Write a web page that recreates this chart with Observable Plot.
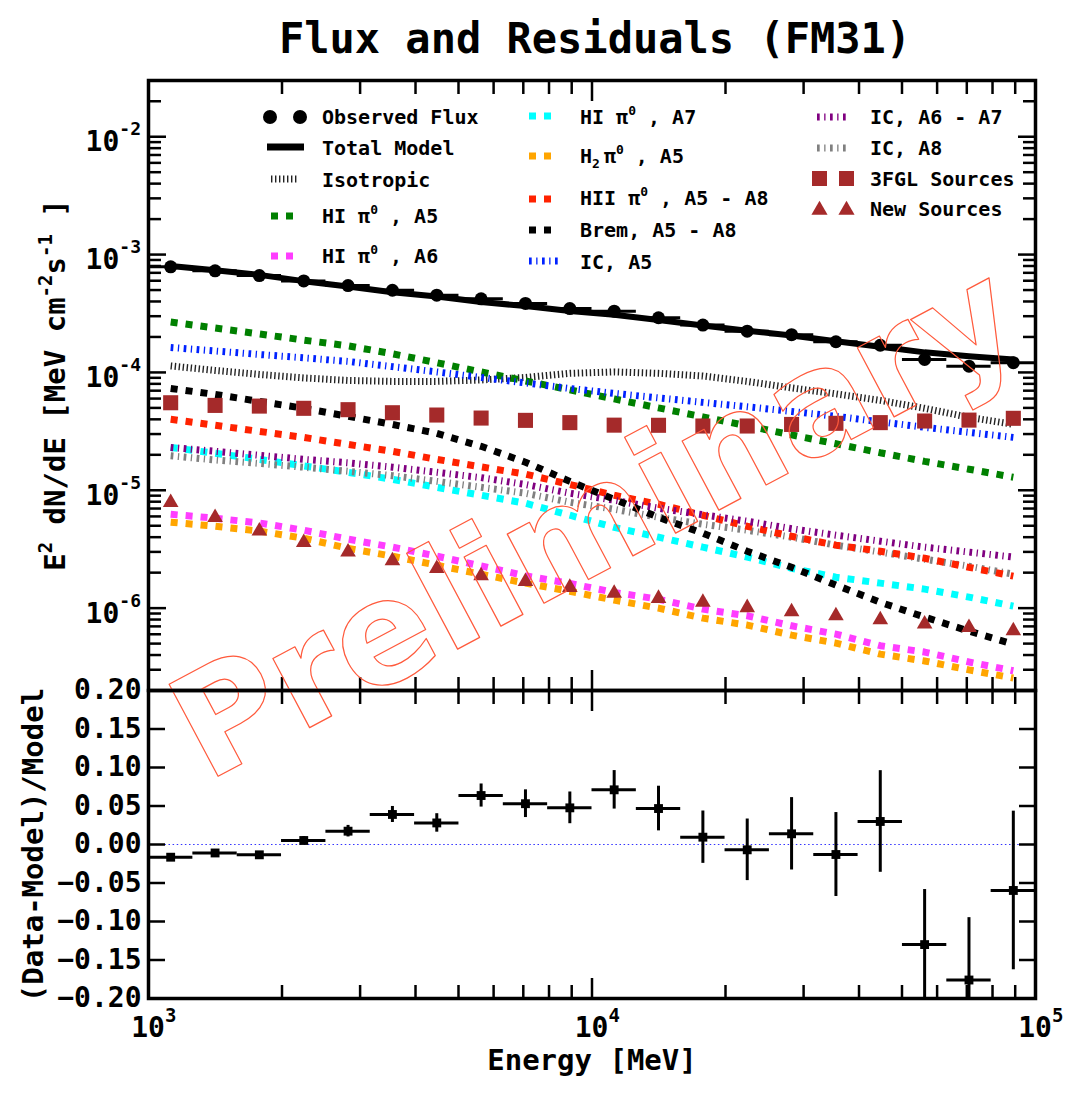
<!DOCTYPE html>
<html><head><meta charset="utf-8">
<script src="https://cdn.jsdelivr.net/npm/d3@7"></script>
<script src="https://cdn.jsdelivr.net/npm/@observablehq/plot@0.6"></script>
<style>
body{margin:0;background:#fff;}
#wrap{position:relative;width:1070px;height:1093px;overflow:hidden;background:#fff;}
#wrap svg{position:absolute;left:0;}
</style></head><body><div id="wrap"></div>
<script>
// ---------------- data ----------------
const energy = [1122, 1413, 1778, 2239, 2818, 3548, 4467, 5623, 7079, 8913, 11220, 14125, 17783, 22387, 28184, 35481, 44668, 56234, 70795, 89125];
const energyLow = [1000, 1259, 1585, 1995, 2512, 3162, 3981, 5012, 6310, 7943, 10000, 12589, 15849, 19953, 25119, 31623, 39811, 50119, 63096, 79433];
const energyHigh = [1259, 1585, 1995, 2512, 3162, 3981, 5012, 6310, 7943, 10000, 12589, 15849, 19953, 25119, 31623, 39811, 50119, 63096, 79433, 100000];

const observedFlux = [7.87e-4, 7.28e-4, 6.64e-4, 5.98e-4, 5.46e-4, 4.98e-4, 4.52e-4, 4.21e-4, 3.85e-4, 3.48e-4, 3.31e-4, 2.91e-4, 2.52e-4, 2.24e-4, 2.09e-4, 1.82e-4, 1.70e-4, 1.29e-4, 1.13e-4, 1.21e-4];
const totalModel = [8.0e-4, 7.36e-4, 6.73e-4, 5.95e-4, 5.37e-4, 4.79e-4, 4.40e-4, 3.96e-4, 3.66e-4, 3.32e-4, 3.09e-4, 2.78e-4, 2.50e-4, 2.26e-4, 2.06e-4, 1.84e-4, 1.65e-4, 1.48e-4, 1.37e-4, 1.29e-4];
const isotropic = [1.135e-4, 1.04e-4, 9.62e-5, 8.98e-5, 8.55e-5, 8.39e-5, 8.39e-5, 8.63e-5, 9.07e-5, 9.82e-5, 1.01e-4, 9.82e-5, 9.33e-5, 8.39e-5, 7.39e-5, 6.58e-5, 5.79e-5, 4.96e-5, 4.16e-5, 3.63e-5];
const hiA5 = [2.68e-4, 2.38e-4, 2.12e-4, 1.88e-4, 1.68e-4, 1.44e-4, 1.21e-4, 1.01e-4, 8.47e-5, 7.11e-5, 5.96e-5, 5.00e-5, 4.20e-5, 3.52e-5, 2.95e-5, 2.48e-5, 2.08e-5, 1.76e-5, 1.51e-5, 1.29e-5];
const hiA6 = [6.26e-6, 5.79e-6, 5.28e-6, 4.58e-6, 3.85e-6, 3.29e-6, 2.76e-6, 2.28e-6, 1.88e-6, 1.62e-6, 1.36e-6, 1.19e-6, 9.81e-7, 8.61e-7, 7.08e-7, 6.02e-7, 4.80e-7, 4.24e-7, 3.49e-7, 2.94e-7];
const hiA7 = [2.31e-5, 2.06e-5, 1.83e-5, 1.61e-5, 1.42e-5, 1.24e-5, 1.06e-5, 9.08e-6, 7.76e-6, 6.14e-6, 4.85e-6, 4.00e-6, 3.29e-6, 2.71e-6, 2.18e-6, 1.83e-6, 1.63e-6, 1.45e-6, 1.24e-6, 1.04e-6];
const h2A5 = [5.36e-6, 4.95e-6, 4.50e-6, 3.92e-6, 3.22e-6, 2.76e-6, 2.31e-6, 1.94e-6, 1.63e-6, 1.39e-6, 1.17e-6, 1.00e-6, 8.22e-7, 7.18e-7, 5.90e-7, 5.05e-7, 4.07e-7, 3.56e-7, 2.99e-7, 2.55e-7];
const hiiA5A8 = [4.00e-5, 3.56e-5, 3.16e-5, 2.81e-5, 2.45e-5, 2.14e-5, 1.83e-5, 1.58e-5, 1.37e-5, 1.12e-5, 9.08e-6, 7.61e-6, 6.14e-6, 4.95e-6, 4.07e-6, 3.42e-6, 3.04e-6, 2.65e-6, 2.22e-6, 1.87e-6];
const bremA5A8 = [7.31e-5, 6.51e-5, 5.68e-5, 4.96e-5, 4.24e-5, 3.62e-5, 3.04e-5, 2.36e-5, 1.73e-5, 1.19e-5, 8.39e-6, 5.90e-6, 4.32e-6, 3.04e-6, 2.22e-6, 1.57e-6, 1.12e-6, 8.39e-7, 6.38e-7, 4.95e-7];
const icA5 = [1.63e-4, 1.52e-4, 1.42e-4, 1.33e-4, 1.24e-4, 1.12e-4, 1.01e-4, 9.07e-5, 8.15e-5, 7.31e-5, 6.64e-5, 6.08e-5, 5.57e-5, 5.11e-5, 4.67e-5, 4.24e-5, 3.81e-5, 3.42e-5, 3.10e-5, 2.81e-5];
const icA6A7 = [2.31e-5, 2.14e-5, 1.98e-5, 1.83e-5, 1.71e-5, 1.57e-5, 1.42e-5, 1.28e-5, 1.12e-5, 9.44e-6, 8.23e-6, 7.04e-6, 6.20e-6, 5.46e-6, 4.72e-6, 4.16e-6, 3.70e-6, 3.29e-6, 2.99e-6, 2.71e-6];
const icA8 = [1.96e-5, 1.81e-5, 1.69e-5, 1.57e-5, 1.45e-5, 1.33e-5, 1.19e-5, 1.06e-5, 9.44e-6, 7.91e-6, 6.90e-6, 5.90e-6, 5.15e-6, 4.58e-6, 4.00e-6, 3.42e-6, 2.99e-6, 2.60e-6, 2.27e-6, 1.94e-6];
const fgl3Sources = [5.53e-5, 5.25e-5, 5.18e-5, 4.96e-5, 4.83e-5, 4.55e-5, 4.35e-5, 4.10e-5, 3.92e-5, 3.75e-5, 3.57e-5, 3.56e-5, 3.51e-5, 3.51e-5, 3.62e-5, 3.70e-5, 3.75e-5, 3.87e-5, 3.94e-5, 4.08e-5];
const newSources = [7.87e-6, 5.87e-6, 4.52e-6, 3.60e-6, 3.00e-6, 2.52e-6, 2.17e-6, 1.88e-6, 1.68e-6, 1.50e-6, 1.34e-6, 1.21e-6, 1.12e-6, 1.01e-6, 9.31e-7, 8.61e-7, 7.96e-7, 7.32e-7, 6.86e-7, 6.42e-7];

const residual = [-0.0165, -0.011, -0.0134, 0.0052, 0.0173, 0.039, 0.028, 0.0636, 0.053, 0.0476, 0.071, 0.0467, 0.0095, -0.0069, 0.0139, -0.013, 0.0299, -0.130, -0.176, -0.0597];
const residualErr = [0.003, 0.003, 0.003, 0.005, 0.0075, 0.0104, 0.012, 0.015, 0.018, 0.0206, 0.025, 0.029, 0.034, 0.040, 0.047, 0.0545, 0.066, 0.0715, 0.081, 0.103];

const xMajorTicks = [1e3, 1e4, 1e5];
const xMinorTicks = [2e3, 3e3, 4e3, 5e3, 6e3, 7e3, 8e3, 9e3, 2e4, 3e4, 4e4, 5e4, 6e4, 7e4, 8e4, 9e4];
const yMajorTicks = [1e-6, 1e-5, 1e-4, 1e-3, 1e-2];
const yMinorTicks = [2e-7,3e-7,4e-7,5e-7,6e-7,7e-7,8e-7,9e-7, 2e-6,3e-6,4e-6,5e-6,6e-6,7e-6,8e-6,9e-6, 2e-5,3e-5,4e-5,5e-5,6e-5,7e-5,8e-5,9e-5, 2e-4,3e-4,4e-4,5e-4,6e-4,7e-4,8e-4,9e-4, 2e-3,3e-3,4e-3,5e-3,6e-3,7e-3,8e-3,9e-3, 2e-2,3e-2];
const residTicks = [-0.2, -0.15, -0.1, -0.05, 0, 0.05, 0.1, 0.15, 0.2];

// ---------------- helpers ----------------
const MONO = "DejaVu Sans Mono";
const rows = vals => energy.map((E, i) => ({E, v: vals[i], lo: energyLow[i], hi: energyHigh[i]}));
const SQ = "7,8";
const IC = "2.7,4.5,1.3,4.5";
const ISO = "1.4,2.6";
const dashed = (vals, stroke, dash) => Plot.line(rows(vals), {
  x: "E", y: "v", stroke, strokeWidth: 7, strokeDasharray: dash,
  strokeLinecap: "butt", strokeLinejoin: "miter"
});
const tickAxes = (axis, anchors, ticks, size) => anchors.map(anchor =>
  axis({anchor, ticks, tickSize: -size, fill: "none", stroke: "black", strokeWidth: 2.5, label: null}));

const colors = {
  hiA5: "#008000", hiA6: "#ff3dff", hiA7: "#00ffff", h2: "#ffa500", hii: "#ff2200",
  brem: "#000000", icA5: "#0022ff", icA6: "#800080", icA8: "#808080", iso: "#222222", src: "#a52a2a"
};

// ---------------- top panel ----------------
const topPlot = Plot.plot({
  width: 1070, height: 690,
  marginLeft: 148, marginRight: 35, marginTop: 80, marginBottom: 0,
  style: {background: "transparent", overflow: "visible"},
  x: {type: "log", domain: [1e3, 1e5]},
  y: {type: "log", domain: [2e-7, 3e-2]},
  marks: [
    dashed(isotropic, colors.iso, ISO),
    dashed(hiA5, colors.hiA5, SQ),
    dashed(hiA6, colors.hiA6, SQ),
    dashed(h2A5, colors.h2, SQ),
    dashed(hiA7, colors.hiA7, SQ),
    dashed(icA8, colors.icA8, IC),
    dashed(hiiA5A8, colors.hii, SQ),
    dashed(icA6A7, colors.icA6, IC),
    dashed(bremA5A8, colors.brem, SQ),
    dashed(icA5, colors.icA5, IC),
    Plot.ruleY(rows(observedFlux), {x1: "lo", x2: "hi", y: "v", stroke: "black", strokeWidth: 3}),
    Plot.line(rows(totalModel), {x: "E", y: "v", stroke: "black", strokeWidth: 6}),
    Plot.dot(rows(observedFlux), {x: "E", y: "v", r: 6.5, fill: "black"}),
    Plot.dot(rows(fgl3Sources), {x: "E", y: "v", symbol: "square", r: 8.5, fill: colors.src}),
    Plot.dot(rows(newSources), {x: "E", y: "v", symbol: "triangle", r: 5.8, fill: colors.src}),
    ...tickAxes(Plot.axisX, ["top", "bottom"], xMinorTicks, 13),
    ...tickAxes(Plot.axisX, ["top", "bottom"], xMajorTicks, 20),
    ...tickAxes(Plot.axisY, ["left", "right"], yMinorTicks, 13),
    ...tickAxes(Plot.axisY, ["left", "right"], yMajorTicks, 18),
    Plot.frame({stroke: "black", strokeWidth: 3.5}),
    Plot.text(["Preliminary"], {
      text: d => d, frameAnchor: "top-left", dx: 58, dy: 702, rotate: -28,
      textAnchor: "start", lineAnchor: "bottom", fontSize: 143,
      fontFamily: "DejaVu Sans", fontWeight: "bold",
      fill: "none", stroke: "#ff5a3c", strokeWidth: 1.2
    })
  ]
});

// ---------------- bottom panel ----------------
const resRows = energy.map((E, i) => ({E, r: residual[i], e: residualErr[i], lo: energyLow[i], hi: energyHigh[i]}));
const botPlot = Plot.plot({
  width: 1070, height: 403,
  marginLeft: 148, marginRight: 35, marginTop: 0, marginBottom: 95,
  style: {background: "transparent", overflow: "visible"},
  x: {type: "log", domain: [1e3, 1e5]},
  y: {domain: [-0.2, 0.2]},
  marks: [
    Plot.ruleY([0], {stroke: "#3333ff", strokeWidth: 1.2, strokeDasharray: "1.5,2.6"}),
    Plot.ruleY(resRows, {x1: "lo", x2: "hi", y: "r", stroke: "black", strokeWidth: 3}),
    Plot.ruleX(resRows, {x: "E", y1: d => d.r - d.e, y2: d => d.r + d.e, stroke: "black", strokeWidth: 3, clip: true}),
    Plot.dot(resRows, {x: "E", y: "r", symbol: "square", r: 5, fill: "black"}),
    ...tickAxes(Plot.axisX, ["top", "bottom"], xMinorTicks, 13),
    ...tickAxes(Plot.axisX, ["top", "bottom"], xMajorTicks, 20),
    ...tickAxes(Plot.axisY, ["left", "right"], residTicks, 17),
    Plot.axisY({anchor: "left", ticks: residTicks, tickSize: 0, tickPadding: 7, stroke: "none",
      tickFormat: d3.format(".2f"), fontSize: 28, fontFamily: MONO, fontWeight: "bold", fill: "black", label: null}),
    Plot.frame({stroke: "black", strokeWidth: 3.5})
  ]
});

const wrap = document.getElementById("wrap");
topPlot.style.top = "0px";
botPlot.style.top = "690px";
wrap.appendChild(topPlot);
wrap.appendChild(botPlot);

// ---------------- texts ----------------
function txt(svg, x, y, opts = {}) {
  const t = d3.select(svg).append("text")
    .attr("x", x).attr("y", y)
    .attr("font-family", opts.family || MONO).attr("font-weight", "bold")
    .attr("font-size", opts.size || 20).attr("text-anchor", opts.anchor || "start")
    .attr("fill", "black");
  if (opts.transform) t.attr("transform", opts.transform);
  return t;
}
// pieces: [string, kind] kind: 0 normal, 1 sup, -1 sub
function rich(t, pieces, size, small, up) {
  let shift = 0;
  pieces.forEach(([s, k, extra]) => {
    const target = k === 1 ? -up : k === -1 ? up * 0.55 : 0;
    const sp = t.append("tspan").attr("dy", target - shift).attr("font-size", k ? small : size).text(s);
    if (extra) sp.attr("dx", extra);
    shift = target;
  });
  return t;
}

// title
txt(topPlot, 595, 53, {size: 42, anchor: "middle"}).text("Flux and Residuals (FM31)");

// top y tick labels
const ys = topPlot.scale("y");
yMajorTicks.forEach(t => {
  const py = ys.apply(t);
  rich(txt(topPlot, 141, py + 15, {size: 28, anchor: "end"}),
    [["10", 0], ["-" + Math.round(-Math.log10(t)), 1]], 28, 18, 16);
});

// bottom x tick labels
const xs = botPlot.scale("x");
xMajorTicks.forEach(t => {
  const px = xs.apply(t);
  txt(botPlot, px, 347, {size: 28, anchor: "middle"}).text("10");
  txt(botPlot, px + 17, 332, {size: 19}).text(String(Math.round(Math.log10(t))));
});

// axis titles
txt(botPlot, 592, 380, {size: 29, anchor: "middle"}).text("Energy [MeV]");
txt(botPlot, 0, 0, {size: 29, anchor: "middle", transform: "translate(43,155) rotate(-90)"}).text("(Data-Model)/Model");
rich(txt(topPlot, 0, 0, {size: 29, anchor: "middle", transform: "translate(65,385) rotate(-90)"}),
  [["E", 0], ["2", 1], [" dN/dE [MeV cm", 0], ["-2", 1], ["s", 0], ["-1", 1], [" ]", 0]], 29, 19, 13);

// ---------------- legend ----------------
const g = d3.select(topPlot).append("g");
function lline(x1, x2, y, stroke, dash, w = 7) {
  g.append("line").attr("x1", x1).attr("x2", x2).attr("y1", y).attr("y2", y)
    .attr("stroke", stroke).attr("stroke-width", w).attr("stroke-dasharray", dash || null);
}
function ltext(x, y, pieces) {
  rich(txt(topPlot, x, y + 7, {size: 20}), pieces, 20, 13, 9);
}
const pi0 = (pre, post) => [[pre + "π", 0], ["0", 1], [post, 0]];
// column 1
g.append("circle").attr("cx", 270).attr("cy", 117).attr("r", 7);
g.append("circle").attr("cx", 300).attr("cy", 117).attr("r", 7);
ltext(322, 117, [["Observed Flux", 0]]);
lline(267, 304, 147, "black", null, 7);
ltext(322, 148, [["Total Model", 0]]);
lline(271, 298, 179, colors.iso, ISO);
ltext(322, 180, [["Isotropic", 0]]);
lline(271, 294, 216, colors.hiA5, SQ);
ltext(322, 216, pi0("HI ", " , A5"));
lline(271, 294, 256, colors.hiA6, SQ);
ltext(322, 256, pi0("HI ", " , A6"));
// column 2
lline(529, 552, 116, colors.hiA7, SQ);
ltext(580, 117, pi0("HI ", " , A7"));
lline(529, 552, 156, colors.h2, SQ);
rich(txt(topPlot, 580, 163, {size: 20}), [["H", 0], ["2", -1], ["π", 0, 4], ["0", 1], [" , A5", 0]], 20, 13, 9);
lline(529, 552, 199, colors.hii, SQ);
ltext(580, 198, pi0("HII ", " , A5 - A8"));
lline(529, 552, 230, colors.brem, SQ);
ltext(580, 230, [["Brem, A5 - A8", 0]]);
lline(529, 558, 261, colors.icA5, IC);
ltext(580, 262, [["IC, A5", 0]]);
// column 3
lline(817, 846, 117, colors.icA6, IC);
ltext(870, 117, [["IC, A6 - A7", 0]]);
lline(817, 846, 148, colors.icA8, IC);
ltext(870, 148, [["IC, A8", 0]]);
[819.5, 846.5].forEach(cx => g.append("rect").attr("x", cx - 7.5).attr("y", 171).attr("width", 15).attr("height", 15).attr("fill", colors.src));
ltext(870, 179, [["3FGL Sources", 0]]);
const tri = d3.symbol(d3.symbolTriangle, Math.PI * 6 * 6)();
[819.5, 846.5].forEach(cx => g.append("path").attr("d", tri).attr("transform", `translate(${cx},210)`).attr("fill", colors.src));
ltext(870, 209, [["New Sources", 0]]);
</script></body></html>
